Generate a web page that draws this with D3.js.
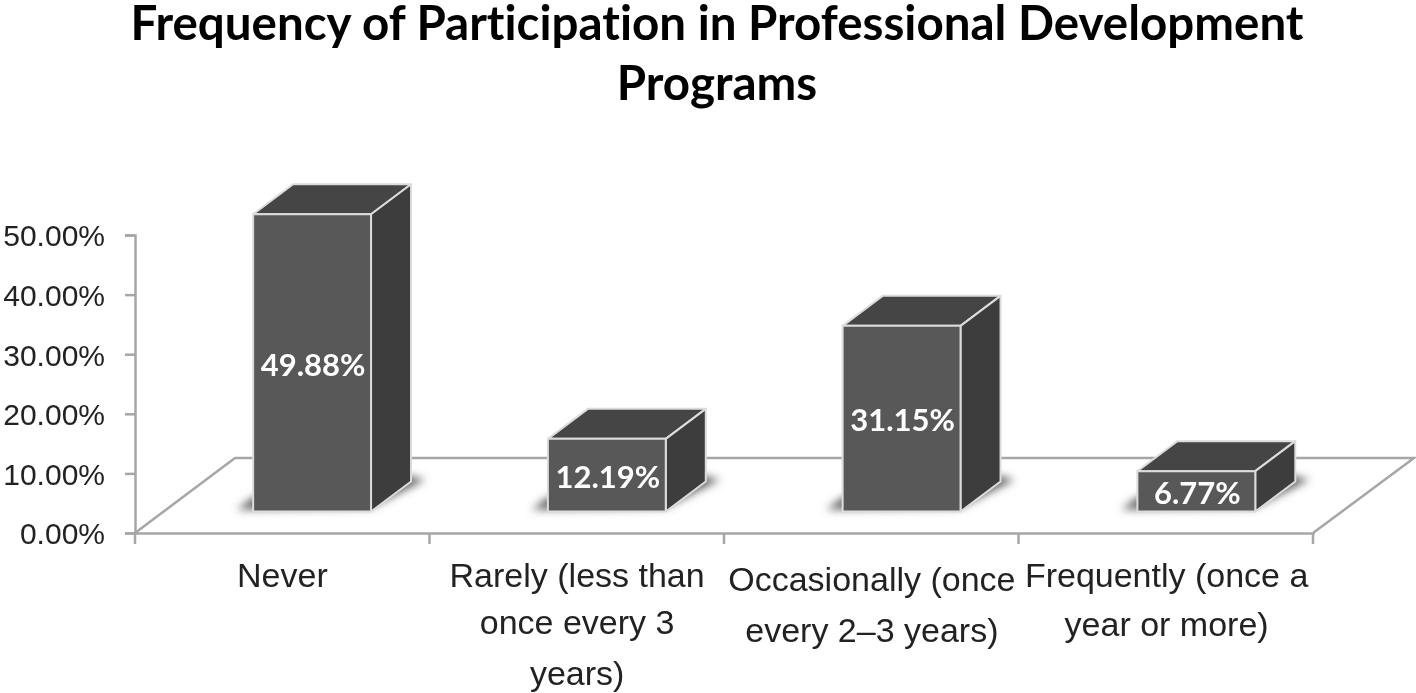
<!DOCTYPE html>
<html><head><meta charset="utf-8">
<script src="https://cdn.jsdelivr.net/npm/d3@7"></script>
<style>html,body{margin:0;padding:0;background:#fff}svg{display:block}text{font-variant-ligatures:none}</style>
</head><body><div id="c"></div>
<script>
const categories = ["Never","Rarely (less than once every 3 years)","Occasionally (once every 2–3 years)","Frequently (once a year or more)"];
const categoryLines = [["Never"],["Rarely (less than","once every 3","years)"],["Occasionally (once","every  2–3 years)"],["Frequently (once a","year or more)"]];
const values = [49.88,12.19,31.15,6.77];
const valueLabels = ["49.88%","12.19%","31.15%","6.77%"];
const yTicks = [0,10,20,30,40,50];
const titleLines = ["Frequency of Participation in Professional Development","Programs"];

const W=1416,H=693;
const svg=d3.select("#c").append("svg").attr("width",W).attr("height",H);
const defs=svg.append("defs");
defs.append("filter").attr("id","soft").append("feGaussianBlur").attr("stdDeviation",0.6);
defs.append("filter").attr("id","shadow").attr("x","-30%").attr("y","-100%").attr("width","160%").attr("height","300%").append("feGaussianBlur").attr("stdDeviation",4);
const root=svg.append("g").attr("filter","url(#soft)");

const x=d3.scaleBand().domain(categories).range([135,1314]).paddingInner(0.6).paddingOuter(0.3).align(0.668);
const y=d3.scaleLinear().domain([0,50]).range([533,235]);
const step=x.step();
const floorDx=100, floorDy=-75;     // oblique floor depth
const barDx=40, barDy=-30;          // oblique box depth
const baseLift=21.5;                // bars stand part-way back on the floor
const grey="#a6a6a6";

// floor
root.append("path").attr("fill","#fff").attr("stroke",grey).attr("stroke-width",2.5)
  .attr("d",d3.line()([[x.range()[0],y(0)],[x.range()[0]+floorDx,y(0)+floorDy],[x.range()[1]+floorDx,y(0)+floorDy],[x.range()[1]-1,y(0)]]));

// axes
const yAxis=root.append("g").attr("transform",`translate(${x.range()[0]},0)`)
  .call(d3.axisLeft(y).tickValues(yTicks).tickSize(10).tickPadding(20).tickFormat(d=>d3.format(".2f")(d)+"%"));
const xAxis=root.append("g").attr("transform",`translate(0,${y(0)})`)
  .call(d3.axisBottom(x).tickValues([]).tickSize(0));
const xTicks=d3.range(categories.length+1).map(i=>x.range()[0]+i*(x.range()[1]-1-x.range()[0])/categories.length);
xAxis.selectAll("line.t").data(xTicks).join("line").attr("class","t")
  .attr("x1",d=>d).attr("x2",d=>d).attr("y1",0).attr("y2",11);
root.selectAll(".domain").attr("stroke",grey).attr("stroke-width",2.5);
root.selectAll("g line").attr("stroke",grey).attr("stroke-width",2.5);
yAxis.selectAll("text").attr("font-family","'Liberation Sans',Arial,sans-serif").attr("font-size",30).attr("fill","#222").attr("dy","0.36em");

// x labels
const lineYs=[[575],[575,622,673],[579,630],[575,624]];
categories.forEach((c,i)=>{
  categoryLines[i].forEach((t,j)=>{
    root.append("text").attr("x",x.range()[0]+(i+0.5)*step).attr("y",lineYs[i][j]).attr("dy","0.36em")
      .attr("text-anchor","middle").attr("font-family","'Liberation Sans',Arial,sans-serif").attr("font-size",34)
      .attr("fill","#222").text(t);
  });
});

// bars
const bars=root.selectAll("g.bar").data(categories.map((c,i)=>({c,v:values[i],l:valueLabels[i]}))).join("g").attr("class","bar");
bars.each(function(d){
  const g=d3.select(this);
  const x0=x(d.c), w=x.bandwidth(), x1=x0+w;
  const yb=y(0)-baseLift, yt=y(d.v)-baseLift;
  const poly=p=>"M"+p.join("L")+"Z";
  g.append("path").attr("filter","url(#shadow)").attr("fill","#5f5f5f")
    .attr("d",poly([[x0-16,yb-2],[x1,yb-4],[x1+barDx+14,yb+barDy-2],[x1+barDx-10,yb+barDy-7],[x1,yb+barDy-4],[x0,yb-14]]));
  const st={stroke:"#dcdcdc","stroke-width":2,"stroke-linejoin":"round"};
  const add=(p,f)=>{const e=g.append("path").attr("d",poly(p)).attr("fill",f);Object.entries(st).forEach(([k,v])=>e.attr(k,v));};
  add([[x0,yt],[x1,yt],[x1+barDx,yt+barDy],[x0+barDx,yt+barDy]],"#444444");
  add([[x1,yt],[x1+barDx,yt+barDy],[x1+barDx,yb+barDy],[x1,yb]],"#3c3c3c");
  add([[x0,yt],[x1,yt],[x1,yb],[x0,yb]],"#595959");
  g.append("text").attr("x",x0+w/2+1).attr("y",(yt+yb)/2).attr("dy","0.41em").attr("text-anchor","middle")
    .attr("font-family","Lato,'Open Sans',sans-serif").attr("font-weight",700).attr("font-size",31).attr("fill","#fff").text(d.l);
});

// title
titleLines.forEach((t,i)=>{
  root.append("text").attr("x",717).attr("y",[40,100][i]).attr("text-anchor","middle")
    .attr("font-family","Lato,'Open Sans',sans-serif").attr("font-weight",700).attr("font-size",47.5).attr("fill","#000").text(t);
});
</script></body></html>
